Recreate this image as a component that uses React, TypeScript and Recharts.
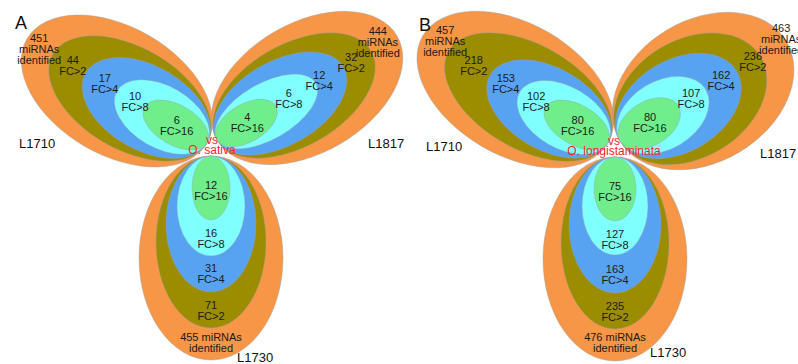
import { ScatterChart, Scatter, XAxis, YAxis } from "recharts";

const lineNames = ["L1710", "L1817", "L1730"];
const references = ["O. sativa", "O. longistaminata"];
const panelLetters = ["A", "B"];
const foldLabels = ["FC>2", "FC>4", "FC>8", "FC>16"];

// miRNA counts per line, ordered L1710, L1817, L1730
const sativaIdentified = [451, 444, 455];
const sativaFc2 = [44, 32, 71];
const sativaFc4 = [17, 12, 31];
const sativaFc8 = [10, 6, 16];
const sativaFc16 = [6, 4, 12];

const longiIdentified = [457, 463, 476];
const longiFc2 = [218, 236, 235];
const longiFc4 = [153, 162, 163];
const longiFc8 = [102, 107, 127];
const longiFc16 = [80, 80, 75];

const panelCounts = [
  [sativaIdentified, sativaFc2, sativaFc4, sativaFc8, sativaFc16],
  [longiIdentified, longiFc2, longiFc4, longiFc8, longiFc16],
];

const WIDTH = 798;
const HEIGHT = 364;
const FONT = "'Liberation Sans', Arial, sans-serif";
const LEVEL_COLORS = ["#F79646", "#9C8C00", "#58A2F2", "#80FFFF", "#70EE8C"];
// distance of each level's label from the petal tip, along the petal axis
const LABEL_DIST = [188, 155, 118, 83, 35];

// petal geometry: every ellipse of a petal touches the tip, its major axis pointing along `angle`
type Petal = {
  tip: [number, number];
  angle: number;
  axes: [number, number][];
  tag: [number, number];
  outerShift: [number, number];
};
type PanelLayout = { letter: [number, number]; center: [number, number]; petals: Petal[] };

const LAYOUT: PanelLayout[] = [
  {
    letter: [15, 23],
    center: [212, 145],
    petals: [
      {
        tip: [207, 143],
        angle: 210,
        axes: [[104, 64], [89, 51], [70, 42], [52, 31], [36, 20]],
        tag: [19, 143],
        outerShift: [-5, 0],
      },
      {
        tip: [217, 140],
        angle: -30,
        axes: [[104, 65], [89, 51], [73, 42], [57, 28], [34, 19]],
        tag: [368, 143],
        outerShift: [-2, -4],
      },
      {
        tip: [211, 156],
        angle: 90,
        axes: [[102, 72], [86, 55], [68, 45], [50, 34], [32, 19]],
        tag: [237, 357],
        outerShift: [0, -1],
      },
    ],
  },
  {
    letter: [419, 25],
    center: [614, 146],
    petals: [
      {
        tip: [608, 143],
        angle: 210,
        axes: [[107, 66], [92, 52], [68, 41], [51, 31], [36, 20]],
        tag: [426, 146],
        outerShift: [0, -8],
      },
      {
        tip: [620, 141],
        angle: -31,
        axes: [[97, 71], [82, 59], [68, 46], [50, 34], [34, 22]],
        tag: [760, 153],
        outerShift: [0, -5],
      },
      {
        tip: [615, 157],
        angle: 90,
        axes: [[102, 72], [86, 54], [68, 46], [49, 33], [32, 21]],
        tag: [650, 352],
        outerShift: [0, -2],
      },
    ],
  },
];

const along = (p: Petal, d: number) => {
  const r = (p.angle * Math.PI) / 180;
  return { x: p.tip[0] + d * Math.cos(r), y: p.tip[1] + d * Math.sin(r) };
};

// one series per fold-change level, each holding the six petals
const ellipseSeries = LEVEL_COLORS.map((color, level) => ({
  color,
  data: LAYOUT.flatMap((panel) =>
    panel.petals.map((p) => {
      const [a, b] = p.axes[level];
      return { ...along(p, a), rx: a, ry: b, angle: p.angle };
    })
  ),
}));

type TextPoint = {
  x: number;
  y: number;
  lines: string[];
  size: number;
  lineHeight: number;
  anchor: "start" | "middle";
  fill: string;
};

const countLabels: TextPoint[] = LAYOUT.flatMap((panel, pi) =>
  panel.petals.flatMap((p, li) =>
    panelCounts[pi].map((series, level) => {
      const n = series[li];
      const vertical = p.angle === 90;
      const lines =
        level === 0
          ? vertical
            ? [`${n} miRNAs`, "identified"]
            : [`${n}`, "miRNAs", "identified"]
          : [`${n}`, foldLabels[level - 1]];
      const pos = along(p, LABEL_DIST[level]);
      if (level === 0) {
        pos.x += p.outerShift[0];
        pos.y += p.outerShift[1];
      }
      return {
        ...pos,
        lines,
        size: 11,
        lineHeight: 11,
        anchor: "middle" as const,
        fill: "#1a1a1a",
      };
    })
  )
);

const annotations: TextPoint[] = LAYOUT.flatMap((panel, pi) => [
  {
    x: panel.letter[0],
    y: panel.letter[1],
    lines: [panelLetters[pi]],
    size: 18,
    lineHeight: 18,
    anchor: "start" as const,
    fill: "#111",
  },
  {
    x: panel.center[0],
    y: panel.center[1],
    lines: ["vs", references[pi]],
    size: 12,
    lineHeight: 10,
    anchor: "middle" as const,
    fill: "#FF1F1F",
  },
  ...panel.petals.map((p, li) => ({
    x: p.tag[0],
    y: p.tag[1],
    lines: [lineNames[li]],
    size: 13,
    lineHeight: 13,
    anchor: "start" as const,
    fill: "#111",
  })),
]);

const EllipseShape = (props: any) => {
  const { cx, cy, payload, fill } = props;
  return (
    <ellipse
      cx={cx}
      cy={cy}
      rx={payload.rx}
      ry={payload.ry}
      transform={`rotate(${payload.angle} ${cx} ${cy})`}
      fill={fill}
      stroke="#9aa0aa"
      strokeWidth={0.6}
      strokeOpacity={0.7}
    />
  );
};

const TextShape = (props: any) => {
  const { cx, cy, payload } = props;
  const t = payload as TextPoint;
  const first = cy - ((t.lines.length - 1) * t.lineHeight) / 2 + t.size * 0.36;
  return (
    <text fontFamily={FONT} fontSize={t.size} fill={t.fill} textAnchor={t.anchor}>
      {t.lines.map((line, i) => (
        <tspan key={i} x={cx} y={first + i * t.lineHeight}>
          {line}
        </tspan>
      ))}
    </text>
  );
};

export default function App() {
  return (
    <div
      style={{
        position: "absolute",
        left: 0,
        top: 0,
        width: WIDTH,
        height: HEIGHT,
        overflow: "hidden",
        background: "#fff",
      }}
    >
      <ScatterChart width={WIDTH} height={HEIGHT} margin={{ top: 0, right: 0, bottom: 0, left: 0 }}>
        <XAxis type="number" dataKey="x" domain={[0, WIDTH]} allowDataOverflow hide />
        <YAxis type="number" dataKey="y" domain={[0, HEIGHT]} allowDataOverflow reversed hide />
        {ellipseSeries.map((s, i) => (
          <Scatter
            key={i}
            data={s.data}
            fill={s.color}
            shape={EllipseShape}
            isAnimationActive={false}
          />
        ))}
        <Scatter data={countLabels} shape={TextShape} isAnimationActive={false} />
        <Scatter data={annotations} shape={TextShape} isAnimationActive={false} />
      </ScatterChart>
    </div>
  );
}
